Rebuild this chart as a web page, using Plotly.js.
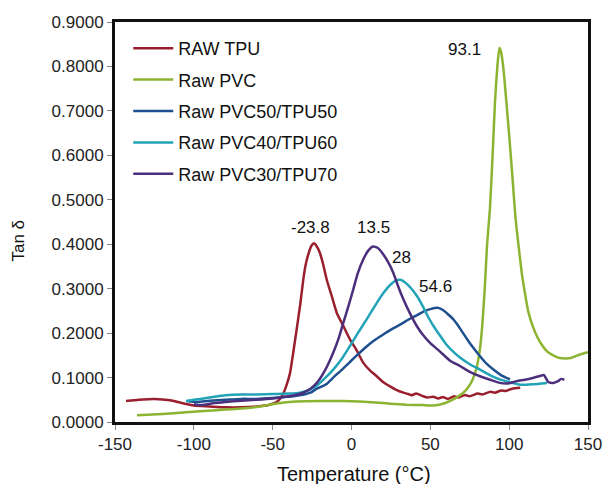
<!DOCTYPE html>
<html>
<head>
<meta charset="utf-8">
<script src="https://cdn.plot.ly/plotly-3.0.1.min.js"></script>
<style>html,body{margin:0;padding:0;background:#fff;}#chart{width:607px;height:484px;}</style>
</head>
<body>
<div id="chart"></div>
<script>
// ---- data ----
const seriesNames = ["RAW TPU", "Raw PVC", "Raw PVC50/TPU50", "Raw PVC40/TPU60", "Raw PVC30/TPU70"];
const seriesColors = ["#9a1f2e", "#8cb431", "#1f4f8f", "#23a3b8", "#4b2f7d"];

const tpuT = [-143,-135,-125,-115,-108,-100,-90,-80,-70,-60,-52,-47,-43.5,-41,-39,-37,-34.8,-32.5,-30.6,-29,-27.4,-25.5,-23.8,-22,-20,-18,-15.7,-12.5,-9.4,-5,-1,3,7.5,12,16,20,24.4,28,32.9,36,38,41,45.5,48,52,55,58,61,65,68,72,75,80,83,88,91,95,98,102,107];
const tpuY = [0.047,0.050,0.052,0.049,0.043,0.037,0.035,0.033,0.033,0.035,0.039,0.046,0.062,0.085,0.110,0.155,0.208,0.265,0.320,0.355,0.377,0.396,0.402,0.395,0.380,0.355,0.320,0.283,0.246,0.215,0.186,0.163,0.133,0.115,0.103,0.090,0.080,0.073,0.066,0.063,0.060,0.064,0.058,0.055,0.057,0.053,0.056,0.052,0.058,0.055,0.061,0.058,0.064,0.062,0.068,0.066,0.071,0.070,0.075,0.077];

const pvcT = [-136,-120,-105,-96,-80,-64,-50,-43,-35,-20,-5,5,15,25,35,45,52,58,63,67,71,74,77,79.5,81.5,83,84.5,86,87.8,89.5,91,92.5,93.8,95,96.5,98,100,102,104,106,108,110,112,115,118,121,124,128,132,136,139,142,145,150];
const pvcY = [0.015,0.018,0.022,0.024,0.028,0.032,0.040,0.044,0.046,0.047,0.047,0.046,0.044,0.041,0.039,0.038,0.037,0.041,0.048,0.056,0.066,0.078,0.097,0.125,0.165,0.220,0.300,0.400,0.480,0.600,0.720,0.800,0.842,0.830,0.790,0.730,0.645,0.555,0.460,0.395,0.335,0.290,0.250,0.215,0.190,0.172,0.159,0.150,0.144,0.143,0.144,0.148,0.152,0.157];

const b50T = [-104.5,-98,-90,-80,-70,-60,-50,-43,-37,-30,-26,-22,-16,-11.6,-6,-1,4,9.6,15,20.2,25,30.8,36,41.4,46,50,54.6,58,61,64.6,68,73,77,81.5,86,90,95,100.5];
const b50Y = [0.047,0.045,0.048,0.050,0.052,0.052,0.054,0.056,0.058,0.062,0.066,0.075,0.085,0.100,0.118,0.135,0.152,0.170,0.185,0.197,0.208,0.219,0.230,0.240,0.249,0.254,0.257,0.252,0.243,0.231,0.215,0.188,0.168,0.148,0.130,0.118,0.105,0.096];

const b40T = [-105,-100,-90,-80,-70,-60,-50,-40,-32.7,-27,-22,-17,-11.6,-6,-1,4,9.6,15,20.2,25,28,31,34,37.5,41.4,45,49,52,56,60,64,68.8,75,81.5,88,94,100,107,115,124];
const b40Y = [0.047,0.050,0.055,0.060,0.062,0.062,0.063,0.064,0.066,0.072,0.082,0.098,0.118,0.143,0.171,0.200,0.231,0.262,0.290,0.310,0.318,0.320,0.314,0.302,0.284,0.262,0.234,0.216,0.195,0.175,0.160,0.145,0.130,0.118,0.105,0.096,0.090,0.084,0.085,0.088];

const b30T = [-100,-95,-88,-80,-70,-60,-50,-40,-34,-30.6,-26,-22,-17,-11.6,-8,-5.2,-2,1.1,4,7.5,10.5,13.5,16.5,20.2,23.5,26.5,29.5,32.9,37,41.4,45.5,49.8,56,62.5,68.8,75,81.5,88,94,100,104.8,110,115,120,122,124.8,128,131,133,135];
const b30Y = [0.040,0.038,0.042,0.045,0.048,0.050,0.053,0.058,0.062,0.066,0.075,0.088,0.115,0.156,0.190,0.223,0.260,0.298,0.335,0.366,0.385,0.395,0.392,0.377,0.358,0.336,0.306,0.276,0.245,0.216,0.195,0.178,0.159,0.138,0.126,0.113,0.103,0.095,0.088,0.087,0.092,0.095,0.099,0.104,0.106,0.090,0.088,0.092,0.097,0.095];

const peakLabels = ["-23.8", "93.1", "54.6", "28", "13.5"];
const peakX = [-23.8, 93.1, 54.6, 28, 13.5];
const peakY = [0.402, 0.842, 0.257, 0.320, 0.395];

const xTickVals = [-150,-100,-50,0,50,100,150];
const xTickText = ["-150","-100","-50","0","50","100","150"];
const yTickVals = [0,0.1,0.2,0.3,0.4,0.5,0.6,0.7,0.8,0.9];
const yTickText = ["0.0000","0.1000","0.2000","0.3000","0.4000","0.5000","0.6000","0.7000","0.8000","0.9000"];
const xTitle = "Temperature (°C)";
const yTitle = "Tan δ";

// ---- chart ----
const FONT = 'Liberation Sans, Arial, sans-serif';
const xs = [tpuT, pvcT, b50T, b40T, b30T];
const ys = [tpuY, pvcY, b50Y, b40Y, b30Y];
const traces = seriesNames.map((n, i) => ({
  type: 'scatter', mode: 'lines', name: n, x: xs[i], y: ys[i], legendgroup: 'g' + i,
  line: {color: seriesColors[i], width: 2.5, shape: 'spline', smoothing: 0.5}
}));

// label offsets in pixels (placement only)
const labShift = [[-3, 16], [-34, -2], [-2, 21], [6, 22], [1, 19]];
const annotations = peakLabels.map((t, i) => ({
  x: peakX[i], y: peakY[i], xref: 'x', yref: 'y', text: t, showarrow: false,
  xshift: labShift[i][0], yshift: labShift[i][1],
  font: {family: FONT, size: 17, color: '#111'}
}));
annotations.push({xref: 'paper', yref: 'paper', x: 0.505, y: -0.131, xanchor: 'center', yanchor: 'middle',
  text: xTitle, showarrow: false, font: {family: FONT, size: 20, color: '#111'}});
annotations.push({xref: 'paper', yref: 'paper', x: -0.206, y: 0.4525, xanchor: 'center', yanchor: 'middle',
  text: yTitle, textangle: -90, showarrow: false, font: {family: FONT, size: 17, color: '#111'}});

const layout = {
  width: 607, height: 484,
  margin: {l: 115, r: 19, t: 22, b: 62},
  paper_bgcolor: '#fff', plot_bgcolor: '#fff',
  font: {family: FONT, color: '#222'},
  showlegend: true,
  legend: {x: 0.028, y: 0.98, xanchor: 'left', yanchor: 'top', bgcolor: 'rgba(0,0,0,0)',
           font: {size: 18, color: '#111'}, tracegroupgap: 5, itemwidth: 40},
  xaxis: {range: [-150, 150], tickvals: xTickVals, ticktext: xTickText, ticks: 'outside', ticklen: 5, tickcolor: '#888',
          showline: true, linecolor: '#111', linewidth: 3, mirror: true, showgrid: false, zeroline: false,
          tickfont: {size: 17, color: '#222'}},
  yaxis: {range: [0, 0.9], tickvals: yTickVals, ticktext: yTickText, ticks: 'outside', ticklen: 5, tickcolor: '#888',
          showline: true, linecolor: '#111', linewidth: 3, mirror: true, showgrid: false, zeroline: false,
          tickfont: {size: 17, color: '#222'}},
  annotations: annotations
};

Plotly.newPlot('chart', traces, layout, {displayModeBar: false, staticPlot: true});
</script>
</body>
</html>
